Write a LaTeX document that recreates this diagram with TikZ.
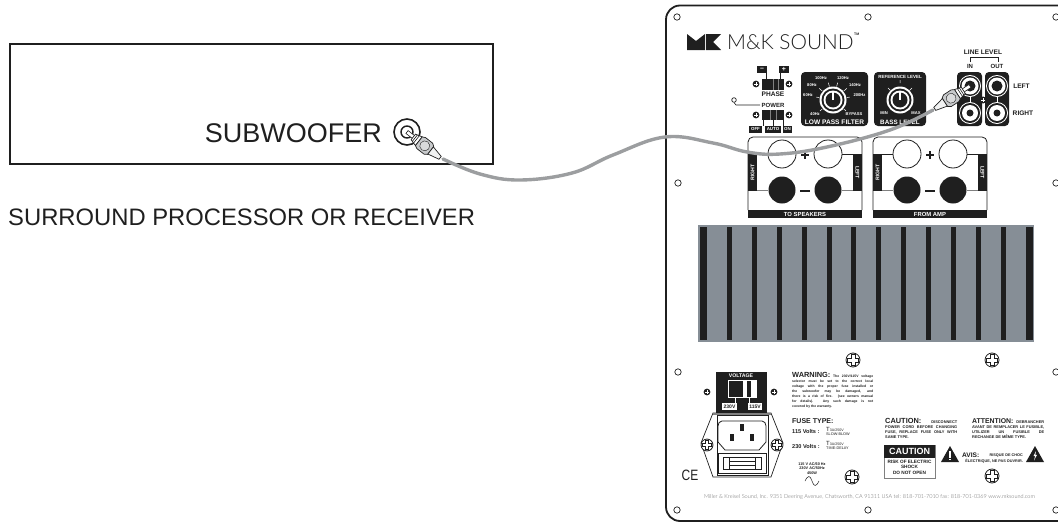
\documentclass[tikz,border=0pt]{standalone}
\usepackage{fontspec}
\setmainfont{Liberation Sans}
\newfontfamily\logofont{Lato Light}
\colorlet{ink}{black!88}
\definecolor{sinkgray}{HTML}{868E96}
\definecolor{cablegray}{HTML}{9C9EA0}
\definecolor{pluggray}{HTML}{C8CACC}
\tikzset{
  x=1pt,y=-1pt,
  fs/.style={inner sep=0,text=ink,font=\fontsize{#1}{#1}\selectfont\bfseries},
  fw/.style={inner sep=0,text=white,font=\fontsize{#1}{#1}\selectfont\bfseries},
  fp/.style={inner sep=0,text=ink,font=\fontsize{#1}{#1}\selectfont},
  hole/.style={draw=ink,line width=.7,fill=white},
  blk/.style={fill=ink,draw=none},
  thin line/.style={draw=ink,line width=.6},
  cable/.style={draw=cablegray,line width=3.4,line cap=round},
  dotscrew/.pic={\fill[ink] (0,0) circle (3.4); \draw[white,line width=.3] (-1.6,0)--(1.6,0) (0,-1.6)--(0,1.6);},
  crossscrew/.pic={\draw[ink,line width=.8,fill=white] (0,0) circle (7);
    \draw[ink,line width=.6,fill=white] (-1.8,-5.5)--(1.8,-5.5)--(1.8,-1.8)--(5.5,-1.8)--(5.5,1.8)--(1.8,1.8)--(1.8,5.5)--(-1.8,5.5)--(-1.8,1.8)--(-5.5,1.8)--(-5.5,-1.8)--(-1.8,-1.8)--cycle;},
  knob/.pic={\fill[white] (0,0) circle (13.5); \fill[ink] (0,0) circle (11.5); \fill[white] (0,0) circle (9.5); \fill[ink] (0,0) circle (7.5);
    \draw[white,line width=1.4] (0,0)--(0,-8);},
  jackA/.pic={\fill[white] (0,0) circle (11); \fill[ink] (0,0) circle (10); \fill[white] (0,0) circle (8.5); \fill[ink] (0,0) circle (5.5);},
  jackB/.pic={\fill[white] (0,0) circle (11); \fill[ink] (0,0) circle (10); \fill[white] (0,0) circle (8); \fill[ink] (0,0) circle (3.5);},
  plug/.pic={
    \draw[ink,line width=.6,fill=white] (0,-1.8) rectangle (9,1.8);
    \draw[ink,line width=.7,fill=white] (8,-3.5)--(15,-5.5)--(15,5.5)--(8,3.5)--cycle;
    \draw[ink,line width=.6] (10,-4)--(10,4) (12,-4.8)--(12,4.8);
    \draw[ink,line width=.7,fill=pluggray] (15,-5.5)--(18,-7)--(27,-7)--(30,-5)--(30,5)--(27,7)--(18,7)--(15,5.5)--cycle;
    \draw[ink,line width=.4,fill=pluggray!70] (22.5,0) circle (5);
    \draw[ink,line width=.7,fill=white!75!pluggray] (30,-4.5)--(42,-1.8)--(42,1.8)--(30,4.5)--cycle;
  },
}
\newcommand\spk[3]{%
  \begin{scope}[shift={(#1,0)}]
    \draw[ink,line width=.8,rounded corners=5,fill=white] (0,210)--(0,137)--(114,137)--(114,210);
    \fill[ink] (0,210) rectangle (114,218);
    \node[fw=5.9] (#3t) at (57,214) {#2};
    \fill[ink] (0,154) rectangle (9,191);
    \fill[ink] (105,154) rectangle (114,191);
    \node[fw=5.2,rotate=90] (#3r) at (4.5,172.5) {RIGHT};
    \node[fw=5.2,rotate=-90] (#3l) at (109.5,172.5) {LEFT};
    \draw[ink,line width=.6] (9,154)--(20,154) (94,154)--(105,154);
    \draw[gray,line width=.6] (9,190)--(20,190) (94,190)--(105,190);
    \draw[ink,line width=.8,fill=white] (34,154) circle (14);
    \draw[ink,line width=.8,fill=white] (80,154) circle (14);
    \fill[ink] (34,190) circle (13.5);
    \fill[ink] (80,190) circle (13.5);
    \draw[ink,line width=1.4] (57,151)--(57,159) (53,155)--(61,155);
    \draw[ink,line width=1.4] (52,191)--(62,191);
  \end{scope}}
\begin{document}
\begin{tikzpicture}
\useasboundingbox (0,0) rectangle (1058,522);
% receiver
\draw[ink,line width=1.8] (10,44) rectangle (493,164);
\node[fp=27,anchor=east] (sub) at (382,133) {SUBWOOFER};
\node[fp=23.8,anchor=west] (surr) at (8,217) {SURROUND PROCESSOR OR RECEIVER};
\draw[ink,line width=1.6,fill=white] (407,132) circle (13);
\draw[ink,line width=1.4,fill=white] (407,132) circle (6);
% panel
\draw[ink,line width=1.8,rounded corners=14] (1058,5.5)--(666,5.5)--(666,521)--(1058,521);
\foreach \px/\py in {677/17,868/17,1056/17,678/183,1056/183,678/372,1056/372,677/510,868/510,1056/510}
  \draw[hole] (\px,\py) circle (3.2);
% logo
\fill[ink] (687,34)--(696,41)--(705,34)--(705,50)--(687,50)--cycle;
\fill[ink] (706,34)--(721,34)--(713,42)--(721,50)--(706,50)--cycle;
\node[inner sep=0,anchor=west,text=ink,font=\fontsize{20.8}{20.8}\selectfont\logofont] (brand) at (727,42) {M\&K SOUND};
\node[fs=3.5,anchor=west] (tm) at (854,34) {TM};
% phase
\fill[ink] (757,66) rectangle (767,73); \fill[ink] (779,66) rectangle (789,73);
\node[fw=7] (minus) at (762,69.5) {--}; \node[fw=7] (plus) at (784,69.5) {+};
\draw[thin line] (766,73)--(766,79) (780,73)--(780,79);
\fill[ink] (762,79) rectangle (784,90);
\draw[gray,line width=.5] (773,79)--(773,90) (778,79)--(778,90);
\pic at (756,84) {dotscrew}; \pic at (789,84) {dotscrew};
\node[fs=6.6] (phase) at (773,94.5) {PHASE};
\node[fs=6] (power) at (773,105) {POWER};
\draw[hole] (734,100) circle (2.3);
\draw[thin line] (734,102.5)--(736,105)--(760,105);
\fill[ink] (762,110) rectangle (784,120);
\draw[gray,line width=.5] (770,110)--(770,120) (776,110)--(776,120);
\pic at (756,115) {dotscrew}; \pic at (789,115) {dotscrew};
\draw[thin line] (763,120)--(763,126) (773,120)--(773,126) (783,120)--(783,126);
\fill[ink] (749,126) rectangle (762,132.5); \fill[ink] (765,126) rectangle (781,132.5); \fill[ink] (783,126) rectangle (792,132.5);
\node[fw=4.4] (off) at (755.5,129.3) {OFF}; \node[fw=4.4] (auto) at (773,129.3) {AUTO}; \node[fw=4.4] (on) at (787.5,129.3) {ON};
% LPF
\fill[ink,rounded corners=4] (801,72) rectangle (868,126);
\pic at (833,100) {knob};
\draw[white,line width=.5] (833,100) ++(-40:14)--++(-40:4) (833,100) ++(-140:14)--++(-140:4) (833,100) ++(-105:14)--++(-105:4) (833,100) ++(-75:14)--++(-75:4) (833,100) ++(-170:14)--++(-170:3) (833,100) ++(-10:14)--++(-10:3) (833,100) ++(140:14)--++(140:3) (833,100) ++(40:14)--++(40:3);
\node[fw=4.1] (f100) at (821,78) {100Hz};
\node[fw=4.1] (f120) at (843,78) {120Hz};
\node[fw=4.1] (f80) at (812,85) {80Hz};
\node[fw=4.1] (f140) at (855,85) {140Hz};
\node[fw=4.1] (f60) at (808,95) {60Hz};
\node[fw=4.1] (f200) at (859.5,95) {200Hz};
\node[fw=4.1] (f40) at (815,114) {40Hz};
\node[fw=4.1] (fby) at (854,114) {BYPASS};
\node[fw=6.6] (lpf) at (834.5,122) {LOW PASS FILTER};
% bass
\fill[ink,rounded corners=4] (874,72) rectangle (926,126);
\pic at (900,100) {knob};
\draw[white,line width=.5] (900,83)--(900,80) (900,100) ++(-45:14)--++(-45:3) (900,100) ++(-135:14)--++(-135:3);
\node[fw=4.5] (ref) at (900,77) {REFERENCE LEVEL};
\node[fw=4.1] (bmin) at (884,113) {MIN};
\node[fw=4.1] (bmax) at (916,113) {MAX};
\node[fw=6.3] (bass) at (900,122) {BASS LEVEL};
% line level
\fill[ink,rounded corners=4] (957,72) rectangle (982,126);
\fill[ink,rounded corners=4] (985,72) rectangle (1009,126);
\draw[white,line width=.7] (970,97)--(970,103) (997,97)--(997,103);
\pic at (970,86) {jackA}; \pic at (997,86) {jackA};
\pic at (970,113) {jackB}; \pic at (997,113) {jackB};
\fill[ink] (983,100) circle (3.5); \draw[white,line width=.4] (981,100)--(985,100) (983,98)--(983,102);
\node[fs=6.6] (ll) at (983,52) {LINE LEVEL};
\node[fs=6] (in) at (970,66.5) {IN};
\node[fs=6] (out) at (997,66.5) {OUT};
\draw[thin line] (970,62)--(970,57.5)--(998,57.5)--(998,62);
\node[fs=6.6] (left) at (1021.5,86) {LEFT};
\node[fs=6.6] (right) at (1023,113) {RIGHT};
% speakers
\spk{748}{TO SPEAKERS}{a}
\spk{873}{FROM AMP}{b}
% heatsink
\fill[sinkgray] (698,225) rectangle (1034,342);
\foreach \bx/\bw in {703.3/7,729.3/5,754.3/5,779.3/5,804.3/5,829.3/5,853.3/5,878.3/5,903.3/5,928.3/5,953.3/5,978.3/5,1003.3/5,1029.3/7}
  \fill[ink] (\bx-\bw/2,227) rectangle (\bx+\bw/2,340);
% screws
\pic at (853,360) {crossscrew}; \pic at (992,360) {crossscrew};
\pic at (852,477) {crossscrew}; \pic at (992,476) {crossscrew};
% voltage
\fill[ink] (716,372) rectangle (767,413);
\node[fw=5.2] (volt) at (741,376) {VOLTAGE};
\draw[white,line width=.7] (728,380) rectangle (756,397);
\fill[white] (743,380) rectangle (747,397); \fill[white] (751,380) rectangle (756,397);
\draw[white,line width=.6] (735,397)--(735,403) (749,397)--(749,403);
\fill[white] (722,403) rectangle (737,410); \fill[white] (748,403) rectangle (762,410);
\node[fs=5] (v230) at (729.5,406.7) {230V}; \node[fs=5] (v115) at (755,406.7) {115V};
\pic at (707,392) {dotscrew}; \pic at (774,392) {dotscrew};
% inlet
\draw[ink,line width=.7] (713,413)--(771,413)--(783,443)--(771,477)--(713,477)--(701,443)--cycle;
\draw[ink,line width=.7] (717,415) rectangle (768,475);
\fill[gray] (713,412.5) rectangle (771,415);
\draw[ink,line width=.8] (722,421)--(762,421) to[out=0,in=90] (766,426)--(766,442)--(759,450)--(725,450)--(718,442)--(718,426) to[out=90,in=180] (722,421)--cycle;
\fill[ink] (740,424) rectangle (744,431); \fill[ink] (730,434) rectangle (734,441); \fill[ink] (750,434) rectangle (754,441);
\draw[ink,line width=.7] (718,453) rectangle (766,473);
\draw[ink,line width=.7] (723,457) rectangle (761,469);
\draw[ink,line width=.6] (729,457)--(729,469) (755,457)--(755,469) (729,461)--(755,461) (729,465)--(755,465);
\pic[scale=.85] at (707,445) {crossscrew}; \pic[scale=.85] at (777,445) {crossscrew};
% CE
\node[fp=15,xscale=.8] (ce) at (690,475) {CE};
% warning
\node[inner sep=0,anchor=north west,text=ink] (warn) at (792,372.5) {\parbox[t]{81pt}{\fontsize{3.4}{5}\selectfont\bfseries{\fontsize{7.4}{5}\selectfont WARNING:} The 230V/115V voltage\linebreak
selector must be set to the correct local\linebreak
voltage with the proper fuse installed or\linebreak
the subwoofer may be damaged, and\linebreak
there is a risk of fire. (see owners manual\linebreak
for details). Any such damage is not\linebreak
covered by the warranty.}};
% fuse
\node[fs=7,anchor=west] (fuse) at (792,421) {FUSE TYPE:};
\node[fs=5.6,anchor=west] (f115) at (792,431) {115 Volts :};
\node[fp=3.6,anchor=west] (t1) at (826,429) {\fontsize{6}{6}\selectfont T\fontsize{3.6}{4}\selectfont 3A/250V};
\node[fp=3.8,anchor=west] (s1) at (826,434) {SLOW-BLOW};
\node[fs=5.6,anchor=west] (f230) at (792,446) {230 Volts :};
\node[fp=3.6,anchor=west] (t2) at (826,443) {\fontsize{6}{6}\selectfont T\fontsize{3.6}{4}\selectfont 3A/250V};
\node[fp=3.8,anchor=west] (s2) at (826,448) {TIME-DELAY};
\node[fs=3.8] (ac1) at (812,464) {115 V AC/60 Hz};
\node[fs=3.8] (ac2) at (812,468.5) {230V AC/50Hz};
\node[fs=3.8] (ac3) at (812,473) {450W};
\draw[ink,line width=.5] (805,481) .. controls (808,475) and (810,475) .. (812,481) .. controls (814,487) and (816,487) .. (819,481);
% caution text
\node[inner sep=0,anchor=north west,text=ink] (caut) at (885,418) {\parbox[t]{72pt}{\fontsize{3.9}{5}\selectfont\bfseries{\fontsize{7.4}{5}\selectfont CAUTION:}\hfill DISCONNECT\linebreak
POWER CORD BEFORE CHANGING\linebreak
FUSE, REPLACE FUSE ONLY WITH\linebreak
SAME TYPE.}};
\node[inner sep=0,anchor=north west,text=ink] (att) at (972,418) {\parbox[t]{72pt}{\fontsize{3.9}{5}\selectfont\bfseries{\fontsize{6.9}{5}\selectfont ATTENTION:}\hfill DEBRANCHER\linebreak
AVANT DE REMPLACER LE FUSIBLE,\linebreak
UTILIZER\hfill UN\hfill FUSIBLE\hfill DE\linebreak
RECHANGE DE MÊME TYPE.}};
% caution box
\draw[gray,line width=1,fill=white] (884,445) rectangle (935,478);
\fill[ink] (884,445) rectangle (935,458);
\node[fw=9] (cbox) at (909.5,451.5) {CAUTION};
\node[fs=4.7] (c1) at (909.5,461.5) {RISK OF ELECTRIC};
\node[fs=4.7] (c2) at (909.5,467) {SHOCK};
\node[fs=4.7] (c3) at (909.5,472.5) {DO NOT OPEN};
% triangles
\fill[ink] (950,446)--(959,462)--(941,462)--cycle;
\fill[white] (949.3,451) rectangle (950.7,457.5); \fill[white] (949.3,458.5) rectangle (950.7,460);
\fill[ink] (1035,446)--(1044,462)--(1026,462)--cycle;
\fill[white] (1036,451)--(1033.5,456)--(1035.2,456)--(1034,460.5)--(1037,454.8)--(1035.4,454.8)--cycle;
\node[fs=6.6,anchor=west] (avis) at (962,455) {AVIS:};
\node[fs=3.8,anchor=east] (av1) at (1023,455.5) {RISQUE DE CHOC};
\node[fs=3.8,anchor=east] (av2) at (1023,461) {ÉLECTRIQUE, NE PAS OUVRIR.};
% footer
\node[inner sep=0,anchor=west,text=black!60,font=\fontsize{5.5}{5.5}\selectfont\logofont] (foot) at (704,497) {Miller \& Kreisel Sound, Inc. 9351 Deering Avenue, Chatsworth, CA 91311 USA tel: 818-701-7010 fax: 818-701-0369 www.mksound.com};
% cable
\coordinate (plugA) at (443,159);
\coordinate (plugB) at (933,110);
\draw[cable] plot[smooth,tension=.65] coordinates {(plugA) (480,174) (520,180) (572,173) (613,155) (665,137) (713,143) (747,152) (780,154) (827,147) (890,130) (plugB)};
\pic[rotate=-38] at (407,132) {plug};
\pic[rotate=213] at (970,86) {plug};
\end{tikzpicture}
\end{document}
